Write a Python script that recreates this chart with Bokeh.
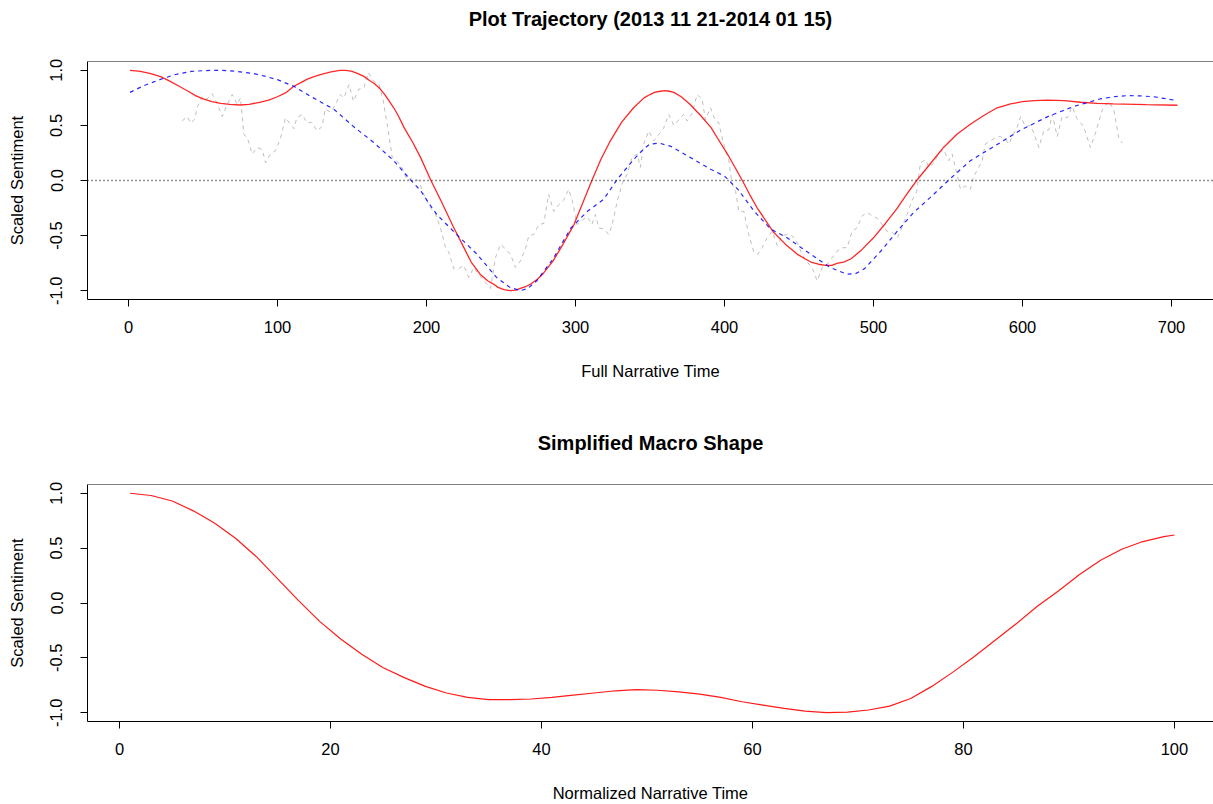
from bokeh.plotting import figure
from bokeh.layouts import column
from bokeh.models import Span, FixedTicker, NumeralTickFormatter, Range1d
from bokeh.embed import file_html
from bokeh.resources import INLINE

# ---------------- data ----------------
raw_x = [36, 39.4, 42, 44.6, 46, 49.5, 52.8, 56, 59.5, 62.9, 66.2, 69.6, 73, 75.2, 77.4, 80, 83,
         86.4, 89.8, 92, 95.3, 98.7, 102, 105.4, 108.7, 111, 113, 116.6, 120, 123, 126.6, 130,
         132, 135.6, 139, 142, 144.5, 148, 151, 154.6, 158, 161, 164.6, 168, 171, 174, 177, 180,
         183.6, 187, 190, 194.8, 198, 202.7, 206, 209.4, 212.8, 215, 218.3, 221.6, 225, 228.4,
         231.7, 235, 238.5, 243, 246.3, 249.7, 253, 256.4, 259.7, 263, 266.4, 268.7, 272, 275.4,
         278.7, 282, 285.4, 288.8, 292, 295.5, 297.8, 301, 304.5, 308, 311, 313.4, 315.6, 319,
         322.4, 324.6, 328, 331.3, 334.7, 338, 341.4, 343.6, 345.8, 349.2, 352.5, 356, 359, 362.6,
         366, 369.3, 372.6, 375, 378.3, 381.6, 385, 387.2, 390.6, 394, 396, 399.5, 403, 405,
         407.5, 409.6, 413, 416.3, 419.7, 422.3, 425.3, 428.6, 432, 435.4, 438.7, 442, 445.4,
         448.7, 452, 455.5, 458.8, 462.2, 465.6, 469, 472.3, 475.6, 479, 482.3, 485.7, 489,
         492.4, 495.7, 499, 502.4, 505.8, 509, 512.5, 516, 519, 522.5, 525.6, 529, 531.5, 535,
         537, 540.5, 544, 547, 550.5, 552.8, 556, 558.4, 561.7, 565, 567.3, 570.7, 573, 575,
         578.5, 582, 585, 588.6, 591, 593, 596.4, 598.7, 602, 605.4, 607.6, 611, 614.3, 617.7,
         620, 623.3, 626.6, 630, 633.3, 636.7, 641, 645.6, 649, 653.5, 658, 661.3, 664.6, 667]
raw_y = [0.54, 0.58, 0.52, 0.56, 0.66, 0.76, 0.74, 0.79, 0.70, 0.58, 0.69, 0.78, 0.69, 0.75, 0.42,
         0.38, 0.24, 0.30, 0.28, 0.16, 0.24, 0.27, 0.38, 0.57, 0.51, 0.47, 0.57, 0.60, 0.52, 0.53,
         0.45, 0.49, 0.65, 0.62, 0.69, 0.78, 0.75, 0.87, 0.72, 0.83, 0.84, 0.98, 0.90, 0.88, 0.72,
         0.48, 0.21, 0.18, 0.12, 0.00, 0.02, 0.00, -0.12, -0.25, -0.30, -0.43, -0.61, -0.65,
         -0.80, -0.80, -0.77, -0.88, -0.79, -0.85, -0.91, -0.98, -0.70, -0.58, -0.62, -0.67,
         -0.79, -0.73, -0.62, -0.50, -0.49, -0.40, -0.39, -0.125, -0.28, -0.22, -0.18, -0.08,
         -0.18, -0.40, -0.36, -0.33, -0.40, -0.31, -0.43, -0.44, -0.49, -0.40, -0.19, -0.03,
         0.06, 0.21, 0.24, 0.12, 0.33, 0.45, 0.36, 0.42, 0.47, 0.60, 0.50, 0.55, 0.60, 0.54,
         0.61, 0.78, 0.74, 0.55, 0.66, 0.54, 0.53, 0.33, 0.18, -0.03, -0.10, -0.28, -0.28, -0.49,
         -0.65, -0.67, -0.61, -0.52, -0.46, -0.59, -0.50, -0.49, -0.50, -0.56, -0.67, -0.74,
         -0.79, -0.91, -0.79, -0.76, -0.70, -0.64, -0.61, -0.61, -0.46, -0.43, -0.32, -0.29,
         -0.32, -0.34, -0.40, -0.46, -0.47, -0.52, -0.43, -0.31, -0.19, -0.10, 0.16, 0.19, 0.12,
         0.16, 0.25, 0.28, 0.18, 0.24, 0.06, -0.08, -0.05, -0.08, 0.04, 0.12, 0.18, 0.33, 0.36,
         0.39, 0.40, 0.37, 0.33, 0.40, 0.48, 0.58, 0.49, 0.50, 0.43, 0.30, 0.45, 0.46, 0.60,
         0.40, 0.58, 0.57, 0.67, 0.56, 0.49, 0.30, 0.43, 0.64, 0.72, 0.64, 0.39, 0.34]

dct_x = [1, 8, 15, 22, 28, 34, 40, 45, 50, 56, 62, 68, 75, 81, 88, 94, 100, 106, 111, 116, 120,
         125, 130, 136, 142, 146, 150, 154, 158, 162, 165, 169, 172, 175, 178, 181, 185, 188,
         191, 196, 203, 210, 218, 224, 230, 236, 241, 245, 248, 252, 256, 260, 263, 267, 270,
         274, 278, 285, 292, 299, 305, 311, 317, 323, 331, 339, 346, 350, 353, 357, 360, 363,
         366, 371, 377, 384, 391, 396, 402, 407, 412, 417, 422, 428, 433, 441, 449, 454, 458,
         463, 468, 472, 476, 480, 485, 492, 500, 508, 516, 522, 529, 538, 547, 556, 565, 574,
         583, 592, 600, 608, 617, 628, 639, 650, 661, 683, 704]
dct_y = [1.00, 0.99, 0.97, 0.94, 0.90, 0.855, 0.81, 0.77, 0.74, 0.715, 0.70, 0.69, 0.685, 0.69,
         0.71, 0.73, 0.76, 0.80, 0.855, 0.89, 0.92, 0.945, 0.965, 0.985, 1.00, 1.00, 0.99, 0.97,
         0.945, 0.905, 0.88, 0.83, 0.78, 0.72, 0.66, 0.59, 0.48, 0.41, 0.34, 0.21, 0.00, -0.19,
         -0.42, -0.58, -0.74, -0.85, -0.91, -0.94, -0.97, -0.99, -1.00, -0.995, -0.98, -0.96,
         -0.94, -0.90, -0.85, -0.73, -0.57, -0.40, -0.20, 0.00, 0.19, 0.35, 0.53, 0.66, 0.75,
         0.78, 0.80, 0.81, 0.815, 0.81, 0.80, 0.76, 0.69, 0.59, 0.48, 0.37, 0.24, 0.12, 0.00,
         -0.13, -0.25, -0.37, -0.47, -0.58, -0.67, -0.71, -0.74, -0.76, -0.77, -0.77, -0.75,
         -0.74, -0.71, -0.63, -0.52, -0.39, -0.25, -0.13, 0.00, 0.15, 0.30, 0.42, 0.51, 0.59,
         0.66, 0.695, 0.715, 0.725, 0.73, 0.725, 0.71, 0.70, 0.695, 0.688, 0.683]

loess_x = [1, 11, 21, 31, 42, 52, 62, 73, 84, 92, 100, 111, 122, 138, 151, 165, 178, 189, 196,
           202, 207, 221, 234, 247, 256, 263, 268, 274, 285, 297, 308, 319, 328, 339, 346, 350,
           356, 364, 377, 391, 400, 409, 420, 431, 442, 458, 471, 482, 488, 494, 505, 516, 527,
           538, 551, 565, 581, 599, 617, 634, 652, 661, 670, 679, 688, 704]
loess_y = [0.80, 0.865, 0.915, 0.96, 0.99, 0.998, 1.00, 0.99, 0.97, 0.945, 0.915, 0.855, 0.765,
           0.645, 0.49, 0.34, 0.18, 0.01, -0.09, -0.215, -0.31, -0.50, -0.67, -0.88, -0.97,
           -1.00, -0.98, -0.91, -0.71, -0.43, -0.28, -0.17, 0.01, 0.19, 0.29, 0.33, 0.34, 0.31,
           0.21, 0.10, 0.04, -0.08, -0.28, -0.44, -0.52, -0.67, -0.79, -0.85, -0.845, -0.80,
           -0.64, -0.46, -0.29, -0.155, 0.01, 0.18, 0.31, 0.46, 0.58, 0.67, 0.74, 0.76, 0.77,
           0.768, 0.76, 0.725]

macro_x = [1, 3, 5, 7, 9, 11, 13, 15, 17, 19, 21, 23, 25, 27, 29, 31, 33, 35, 37, 39, 41, 43,
           45, 47, 49, 51, 53, 55, 57, 59, 61, 63, 65, 67, 69, 71, 73, 75, 77, 79, 81, 83, 85,
           87, 89, 91, 93, 95, 97, 99, 100]
macro_y = [1.00, 0.98, 0.93, 0.84, 0.73, 0.59, 0.42, 0.22, 0.02, -0.17, -0.33, -0.47, -0.59,
           -0.68, -0.76, -0.82, -0.86, -0.88, -0.88, -0.875, -0.86, -0.84, -0.82, -0.80, -0.79,
           -0.795, -0.81, -0.83, -0.86, -0.90, -0.93, -0.96, -0.985, -1.00, -0.995, -0.975,
           -0.94, -0.87, -0.76, -0.63, -0.49, -0.34, -0.19, -0.03, 0.11, 0.26, 0.39, 0.49, 0.56,
           0.605, 0.62]

top_xticks = [0, 100, 200, 300, 400, 500, 600, 700]
bot_xticks = [0, 20, 40, 60, 80, 100]
yticks = [-1.0, -0.5, 0.0, 0.5, 1.0]
titles = ["Plot Trajectory (2013 11 21-2014 01 15)", "Simplified Macro Shape"]

FONT = "Liberation Sans"


def style(p, xticks, title, standoff):
    p.outline_line_color = None
    p.xgrid.visible = False
    p.ygrid.visible = False
    p.background_fill_color = "white"
    p.border_fill_color = "white"
    for ax in (p.xaxis[0], p.yaxis[0]):
        ax.axis_line_color = "black"
        ax.axis_line_width = 1
        ax.major_tick_line_color = "black"
        ax.major_tick_out = 7
        ax.major_tick_in = 0
        ax.minor_tick_line_color = None
        ax.major_label_text_font = FONT
        ax.major_label_text_font_size = "16.5px"
        ax.major_label_text_color = "black"
        ax.axis_label_text_font = FONT
        ax.axis_label_text_font_size = "16.5px"
        ax.axis_label_text_font_style = "normal"
        ax.axis_label_text_color = "black"
    p.xaxis.major_label_standoff = 14
    p.xaxis.axis_label_standoff = 26
    p.yaxis.major_label_standoff = 18
    p.yaxis.axis_label_standoff = 22
    p.xaxis.ticker = FixedTicker(ticks=xticks)
    p.yaxis.ticker = FixedTicker(ticks=yticks)
    p.yaxis.formatter = NumeralTickFormatter(format="0.0")
    p.yaxis.major_label_orientation = "vertical"
    # a trailing blank line keeps the title well above the box, as R does
    p.title.text = title + "\n "
    p.title.text_font = FONT
    p.title.text_font_size = "20px"
    p.title.text_font_style = "bold"
    p.title.align = "center"
    p.title.vertical_align = "top"
    p.title.text_color = "black"
    p.title.standoff = standoff
    # top edge of the box (right edge falls outside the window in the reference)
    p.add_layout(Span(location=p.y_range.end, dimension="width", line_color="black", line_width=1))


p1 = figure(width=1213, height=400, output_backend="svg", toolbar_location=None,
            x_range=Range1d(-27.5, 728.2), y_range=Range1d(-1.08, 1.08),
            x_axis_label="Full Narrative Time", y_axis_label="Scaled Sentiment",
            min_border_left=87, min_border_right=0, min_border_top=60, min_border_bottom=101)
style(p1, top_xticks, titles[0], 15)
p1.line(raw_x, raw_y, line_color="#BEBEBE", line_dash="4 4", line_width=1)
p1.add_layout(Span(location=0, dimension="width", line_color="#222222", line_dash="1 3", line_width=1.3))
p1.line(dct_x, dct_y, line_color="#FF0000", line_width=1.3, line_alpha=0.85)
p1.line(loess_x, loess_y, line_color="#0000FF", line_dash="4 4", line_width=1.2, line_alpha=0.85)

p2 = figure(width=1213, height=404, output_backend="svg", toolbar_location=None,
            x_range=Range1d(-3.03, 103.7), y_range=Range1d(-1.08, 1.08),
            x_axis_label="Normalized Narrative Time", y_axis_label="Scaled Sentiment",
            min_border_left=87, min_border_right=0, min_border_top=84, min_border_bottom=81)
style(p2, bot_xticks, titles[1], 14)
p2.line(macro_x, macro_y, line_color="#FF0000", line_width=1.2, line_alpha=0.9)

layout = column(p1, p2, spacing=0)
open("out.html", "w").write(file_html(layout, INLINE))
